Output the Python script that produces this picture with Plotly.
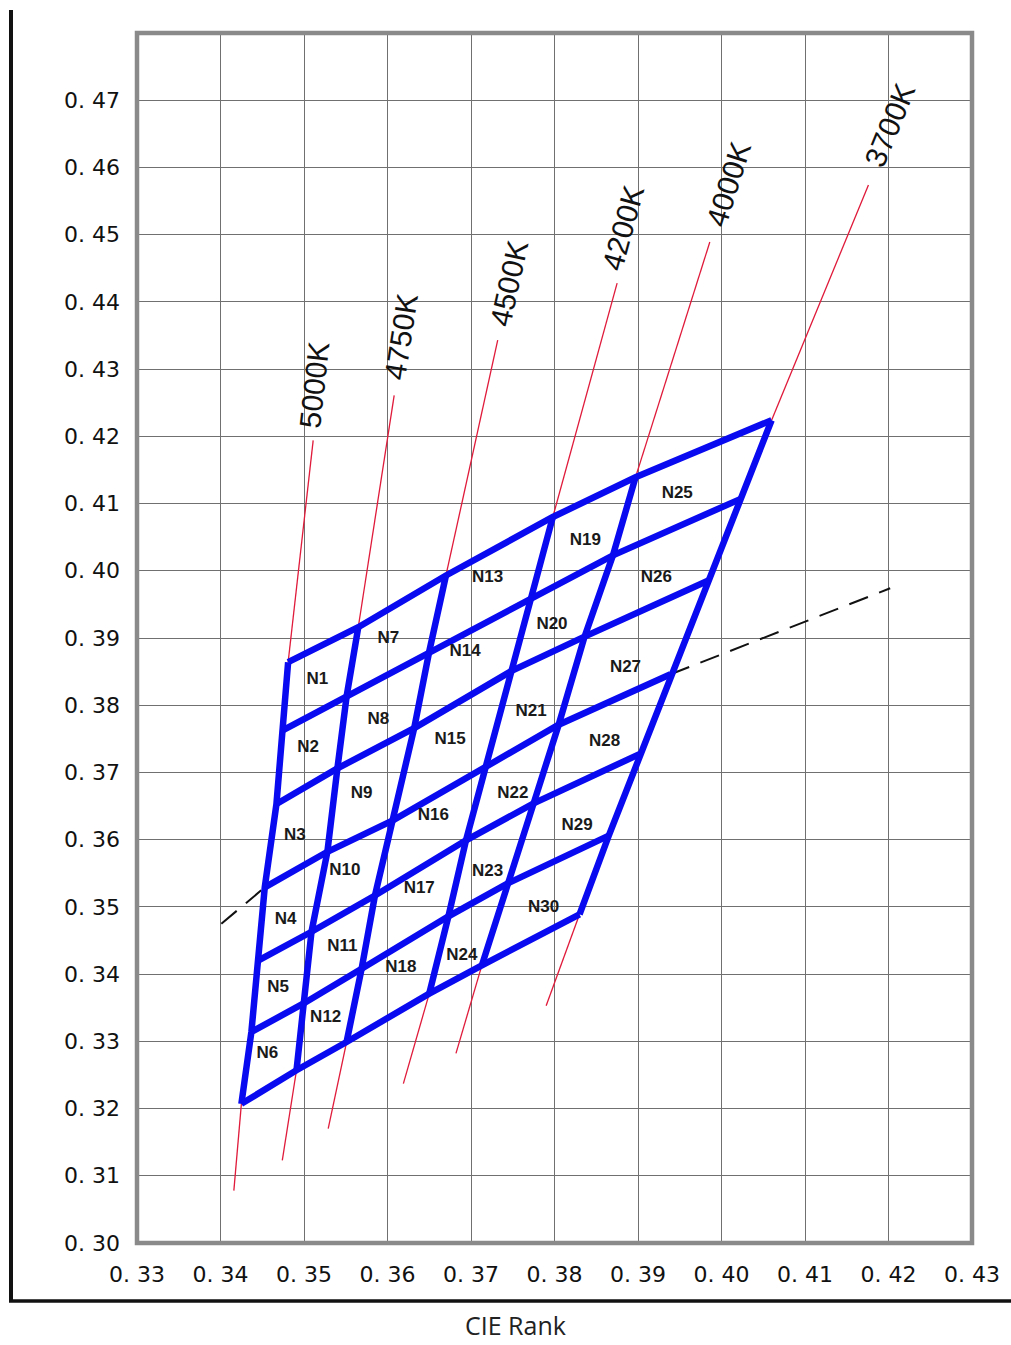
import math
import plotly.graph_objects as go

# ---------------- data ----------------
x_ticks = [0.33, 0.34, 0.35, 0.36, 0.37, 0.38, 0.39, 0.40, 0.41, 0.42, 0.43]
x_tick_labels = ["0. 33", "0. 34", "0. 35", "0. 36", "0. 37", "0. 38",
                 "0. 39", "0. 40", "0. 41", "0. 42", "0. 43"]
y_ticks = [0.30, 0.31, 0.32, 0.33, 0.34, 0.35, 0.36, 0.37, 0.38,
           0.39, 0.40, 0.41, 0.42, 0.43, 0.44, 0.45, 0.46, 0.47]
y_tick_labels = ["0. 30", "0. 31", "0. 32", "0. 33", "0. 34", "0. 35",
                 "0. 36", "0. 37", "0. 38", "0. 39", "0. 40", "0. 41",
                 "0. 42", "0. 43", "0. 44", "0. 45", "0. 46", "0. 47"]

cct_names = ["5000K", "4750K", "4500K", "4200K", "4000K", "3700K"]

# bin corner points along each CCT boundary (top -> bottom)
cct_line_x = [
    [0.3481, 0.3475, 0.3467, 0.3453, 0.3445, 0.3437, 0.3425],
    [0.3565, 0.3551, 0.3540, 0.3528, 0.3509, 0.3499, 0.3491],
    [0.3670, 0.3650, 0.3632, 0.3607, 0.3585, 0.3569, 0.3551],
    [0.3798, 0.3772, 0.3750, 0.3718, 0.3694, 0.3673, 0.3650],
    [0.3897, 0.3870, 0.3836, 0.3805, 0.3775, 0.3744, 0.3713],
    [0.4060, 0.4023, 0.3985, 0.3939, 0.3903, 0.3865, 0.3830],
]
cct_line_y = [
    [0.3864, 0.3763, 0.3653, 0.3529, 0.3420, 0.3314, 0.3207],
    [0.3916, 0.3813, 0.3706, 0.3582, 0.3463, 0.3356, 0.3257],
    [0.3993, 0.3880, 0.3766, 0.3629, 0.3517, 0.3408, 0.3299],
    [0.4080, 0.3959, 0.3852, 0.3709, 0.3599, 0.3486, 0.3371],
    [0.4139, 0.4023, 0.3902, 0.3771, 0.3654, 0.3535, 0.3413],
    [0.4224, 0.4107, 0.3986, 0.3846, 0.3728, 0.3606, 0.3489],
]

# red isotherm extension ends
cct_top_x = [0.3511, 0.3608, 0.3732, 0.3875, 0.3986, 0.4176]
cct_top_y = [0.4194, 0.4261, 0.4343, 0.4428, 0.4489, 0.4574]
cct_bottom_x = [0.3416, 0.3474, 0.3529, 0.3619, 0.3682, 0.3790]
cct_bottom_y = [0.3078, 0.3123, 0.3170, 0.3237, 0.3282, 0.3353]
cct_label_x = [0.3512, 0.3616, 0.3745, 0.3882, 0.4008, 0.4201]
cct_label_y = [0.4276, 0.4349, 0.4428, 0.4511, 0.4575, 0.4663]

# dashed black-body locus ends
locus_left = (0.3401, 0.3475)
locus_right = (0.4202, 0.3974)
locus_row = 3

bin_names = ["N%d" % i for i in range(1, 31)]
bin_x = [0.3516, 0.3505, 0.3489, 0.3478, 0.3469, 0.3456,
         0.3601, 0.3589, 0.3569, 0.3549, 0.3546, 0.3526,
         0.3720, 0.3693, 0.3675, 0.3655, 0.3638, 0.3616,
         0.3837, 0.3797, 0.3772, 0.3750, 0.3720, 0.3689,
         0.3947, 0.3922, 0.3885, 0.3860, 0.3827, 0.3787]
bin_y = [0.3838, 0.3737, 0.3606, 0.3481, 0.3380, 0.3282,
         0.3899, 0.3779, 0.3669, 0.3554, 0.3441, 0.3335,
         0.3990, 0.3880, 0.3749, 0.3636, 0.3527, 0.3410,
         0.4044, 0.3919, 0.3791, 0.3669, 0.3553, 0.3428,
         0.4114, 0.3990, 0.3856, 0.3746, 0.3621, 0.3499]

# ---------------- figure ----------------
W, H = 1011, 1345
ML, MR, MT, MB = 137, 39, 33, 102
X_RANGE = [0.33, 0.43]
Y_RANGE = [0.30, 0.48]
pw, ph = W - ML - MR, H - MT - MB
sx = pw / (X_RANGE[1] - X_RANGE[0])
sy = ph / (Y_RANGE[1] - Y_RANGE[0])

BLUE = "#0a0af0"
fig = go.Figure()

# red CCT lines (extensions outside the bin grid)
for c in range(len(cct_names)):
    xs = [cct_bottom_x[c], cct_line_x[c][-1], None, cct_line_x[c][0], cct_top_x[c]]
    ys = [cct_bottom_y[c], cct_line_y[c][-1], None, cct_line_y[c][0], cct_top_y[c]]
    fig.add_trace(go.Scatter(x=xs, y=ys, mode="lines",
                             line=dict(color="#e01a3a", width=1.3),
                             hoverinfo="skip", showlegend=False))

# dashed locus
n_rows = len(cct_line_x[0])
fig.add_trace(go.Scatter(
    x=[locus_left[0], cct_line_x[0][locus_row], None, cct_line_x[-1][locus_row], locus_right[0]],
    y=[locus_left[1], cct_line_y[0][locus_row], None, cct_line_y[-1][locus_row], locus_right[1]],
    mode="lines", line=dict(color="#111111", width=2, dash="20px,12px"),
    hoverinfo="skip", showlegend=False))

# blue bin grid: CCT boundaries
for c in range(len(cct_names)):
    fig.add_trace(go.Scatter(x=cct_line_x[c], y=cct_line_y[c], mode="lines",
                             line=dict(color=BLUE, width=6.5),
                             hoverinfo="skip", showlegend=False))
# blue bin grid: rows
for r in range(n_rows):
    fig.add_trace(go.Scatter(x=[cct_line_x[c][r] for c in range(len(cct_names))],
                             y=[cct_line_y[c][r] for c in range(len(cct_names))],
                             mode="lines", line=dict(color=BLUE, width=6.5),
                             hoverinfo="skip", showlegend=False))

# bin labels
fig.add_trace(go.Scatter(x=bin_x, y=bin_y, mode="text",
                         text=["<b>%s</b>" % n for n in bin_names],
                         textfont=dict(family="Liberation Sans, Arial", size=17, color="#1a1a1a"),
                         textposition="middle center", hoverinfo="skip", showlegend=False))

annotations = []
for c, name in enumerate(cct_names):
    dxp = (cct_top_x[c] - cct_line_x[c][0]) * sx
    dyp = (cct_top_y[c] - cct_line_y[c][0]) * sy
    ang = math.degrees(math.atan2(dyp, dxp))
    annotations.append(dict(x=cct_label_x[c], y=cct_label_y[c], xref="x", yref="y",
                            text=name, showarrow=False, textangle=-ang,
                            font=dict(family="Liberation Sans, Arial", size=30, color="#111111"),
                            xanchor="center", yanchor="middle"))

def px2paper_x(px):
    return (px - ML) / pw

def px2paper_y(py):
    return (H - MB - py) / ph

annotations.append(dict(x=px2paper_x(515), y=px2paper_y(1343), xref="paper", yref="paper",
                        text="CIE Rank", showarrow=False, borderpad=0,
                        font=dict(family="Open Sans, DejaVu Sans", size=25, color="#222222"),
                        xanchor="center", yanchor="bottom"))

shapes = [
    dict(type="rect", xref="paper", yref="paper", x0=0, y0=0, x1=1, y1=1,
         line=dict(color="#8a8a8a", width=4.5), layer="above"),
    dict(type="line", xref="paper", yref="paper",
         x0=px2paper_x(11), x1=px2paper_x(11), y0=px2paper_y(10), y1=px2paper_y(1302),
         line=dict(color="#111111", width=4)),
    dict(type="line", xref="paper", yref="paper",
         x0=px2paper_x(9), x1=px2paper_x(1011), y0=px2paper_y(1301), y1=px2paper_y(1301),
         line=dict(color="#111111", width=3.5)),
]

tick_font = dict(family="DejaVu Sans", size=22, color="#111111")
fig.update_layout(
    width=W, height=H,
    margin=dict(l=ML, r=MR, t=MT, b=MB, pad=0),
    paper_bgcolor="white", plot_bgcolor="white",
    showlegend=False,
    annotations=annotations, shapes=shapes,
    xaxis=dict(range=X_RANGE, tickvals=x_ticks, ticktext=x_tick_labels,
               showgrid=True, gridcolor="#707070", gridwidth=1.3,
               zeroline=False, showline=False, ticks="",
               tickfont=tick_font, ticklabelstandoff=16, fixedrange=True),
    yaxis=dict(range=Y_RANGE, tickvals=y_ticks, ticktext=y_tick_labels,
               showgrid=True, gridcolor="#707070", gridwidth=1.3,
               zeroline=False, showline=False, ticks="",
               tickfont=tick_font, ticklabelstandoff=16, fixedrange=True),
)

fig.write_html("out.html", config={"displayModeBar": False},
               post_script="document.body.style.margin='0';document.body.style.overflow='hidden';")
